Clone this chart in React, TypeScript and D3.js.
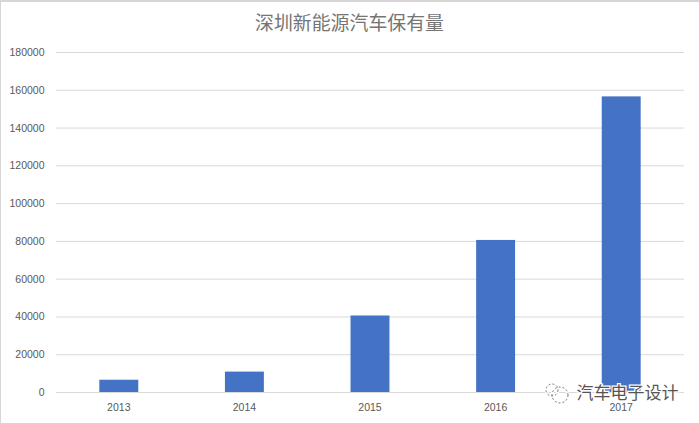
import React, { useEffect, useRef } from 'react'
import * as d3 from 'd3'

const years = ['2013', '2014', '2015', '2016', '2017']
const vehicles = [6500, 10800, 40500, 80500, 156500]
const yTicks = [0, 20000, 40000, 60000, 80000, 100000, 120000, 140000, 160000, 180000]

const chartTitle = '深圳新能源汽车保有量'
const watermark = '汽车电子设计'

const width = 699
const height = 424
const left = 56
const right = 684
const top = 52
const bottom = 392

export default function App() {
  const axisRef = useRef<SVGGElement>(null)
  const gridRef = useRef<SVGGElement>(null)

  const xScale = d3.scaleBand().domain(years).range([left, right]).paddingInner(0.69).paddingOuter(0.345)
  const yScale = d3.scaleLinear().domain([0, 180000]).range([bottom, top])

  useEffect(() => {
    // gridlines
    const grid = d3.axisLeft(yScale).tickValues(yTicks).tickSize(-(right - left)).tickFormat(() => '')
    const g = d3.select(gridRef.current).attr('transform', `translate(${left},0)`).call(grid as any)
    g.select('.domain').remove()
    g.selectAll('.tick line').attr('stroke', '#d9d9d9').attr('stroke-width', 1)

    // y labels
    const labels = d3.select(axisRef.current)
    labels.selectAll('*').remove()
    labels.selectAll('text.y')
      .data(yTicks)
      .join('text')
      .attr('class', 'y')
      .attr('x', 44.5)
      .attr('y', (d) => yScale(d) + 4)
      .attr('text-anchor', 'end')
      .text((d) => d)
    labels.selectAll('text.x')
      .data(years)
      .join('text')
      .attr('class', 'x')
      .attr('x', (d) => xScale(d)! + xScale.bandwidth() / 2)
      .attr('y', 411)
      .attr('text-anchor', 'middle')
      .text((d) => d)
    labels.attr('fill', '#595959').attr('font-size', 10.5).attr('font-family', 'Liberation Sans, sans-serif')
  }, [])

  return (
    <svg width={width} height={height} style={{ position: 'absolute', left: 0, top: 0, background: '#fff' }}>
      <rect x={0} y={0} width={width} height={2} fill="#d6d6d6" />
      <rect x={0} y={0} width={1} height={height} fill="#d6d6d6" />
      <rect x={0} y={height - 1} width={width} height={1} fill="#d6d6d6" />
      <g ref={gridRef} />
      {years.map((y, i) => (
        <rect
          key={y}
          x={xScale(y)}
          y={yScale(vehicles[i])}
          width={xScale.bandwidth()}
          height={bottom - yScale(vehicles[i])}
          fill="#4472c4"
        />
      ))}
      <g ref={axisRef} />
      <text
        x={349.5}
        y={30}
        textAnchor="middle"
        fontSize={18.9}
        fill="#757575"
        fontFamily="Noto Sans CJK SC, sans-serif"
      >
        {chartTitle}
      </text>
      {/* wechat style watermark */}
      <g transform="translate(557,393)" fill="none" stroke="#fff" strokeWidth={3} opacity={0.9}>
        <circle cx={-5} cy={-3} r={6} />
        <circle cx={3} cy={2} r={8} />
      </g>
      <g transform="translate(557,393)" fill="none" stroke="#555" strokeWidth={0.8} strokeDasharray="2 2">
        <circle cx={-5} cy={-3} r={6} />
        <circle cx={3} cy={2} r={8} />
      </g>
      <text
        x={576.5}
        y={399}
        fontSize={17}
        fill="#555"
        stroke="#fff"
        strokeWidth={2.5}
        paintOrder="stroke"
        fontFamily="Noto Sans CJK SC, sans-serif"
      >
        {watermark}
      </text>
    </svg>
  )
}
